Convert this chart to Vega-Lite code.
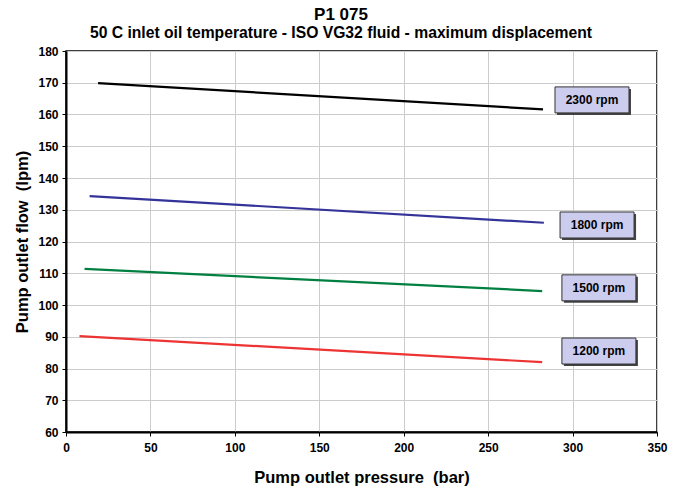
{
  "$schema": "https://vega.github.io/schema/vega-lite/v6.json",
  "width": 591,
  "height": 381,
  "autosize": {"type": "none"},
  "padding": {"left": 66, "top": 51, "right": 26, "bottom": 59},
  "background": "white",
  "title": {
    "text": "P1 075",
    "subtitle": "50 C inlet oil temperature - ISO VG32 fluid - maximum displacement",
    "font": "Liberation Sans",
    "fontSize": 17,
    "fontWeight": "bold",
    "color": "black",
    "subtitleFont": "Liberation Sans",
    "subtitleFontSize": 15.7,
    "subtitleFontWeight": "bold",
    "subtitleColor": "black",
    "subtitlePadding": 2,
    "offset": 3,
    "anchor": "middle",
    "frame": "bounds"
  },
  "config": {
    "view": {"stroke": "black", "strokeWidth": 1.5},
    "axis": {
      "labelFont": "Liberation Sans",
      "labelFontSize": 12,
      "labelFontWeight": "bold",
      "labelColor": "black",
      "labelFlush": false,
      "labelOverlap": false,
      "titleFont": "Liberation Sans",
      "titleFontSize": 16.5,
      "titleFontWeight": "bold",
      "titleColor": "black",
      "domainColor": "black",
      "domainWidth": 2,
      "tickColor": "black",
      "tickSize": 4,
      "gridColor": "#cccccc",
      "gridWidth": 1
    }
  },
  "datasets": {
    "curves": [
      {"speed": "2300 rpm", "pressure": 19, "flow": 169.9},
      {"speed": "2300 rpm", "pressure": 282.5, "flow": 161.6},
      {"speed": "1800 rpm", "pressure": 14, "flow": 134.3},
      {"speed": "1800 rpm", "pressure": 283, "flow": 125.9},
      {"speed": "1500 rpm", "pressure": 11, "flow": 111.4},
      {"speed": "1500 rpm", "pressure": 282, "flow": 104.4},
      {"speed": "1200 rpm", "pressure": 8, "flow": 90.2},
      {"speed": "1200 rpm", "pressure": 282, "flow": 82.0}
    ],
    "labels": [
      {"speed": "2300 rpm", "pressure": 311.5, "flow": 164.6},
      {"speed": "1800 rpm", "pressure": 314.5, "flow": 125.2},
      {"speed": "1500 rpm", "pressure": 315.6, "flow": 105.4},
      {"speed": "1200 rpm", "pressure": 315.6, "flow": 85.5}
    ]
  },
  "encoding": {
    "x": {
      "field": "pressure", "type": "quantitative",
      "scale": {"domain": [0, 350], "nice": false},
      "axis": {"values": [0, 50, 100, 150, 200, 250, 300, 350], "title": "Pump outlet pressure \u00a0(bar)", "titlePadding": 16, "labelPadding": 6}
    },
    "y": {
      "field": "flow", "type": "quantitative",
      "scale": {"domain": [60, 180], "nice": false, "zero": false},
      "axis": {"values": [60, 70, 80, 90, 100, 110, 120, 130, 140, 150, 160, 170, 180], "title": "Pump outlet flow \u00a0(lpm)", "titlePadding": 7, "labelPadding": 4}
    }
  },
  "layer": [
    {
      "data": {"name": "curves"},
      "mark": {"type": "line", "strokeWidth": 2.2},
      "encoding": {
        "color": {
          "field": "speed", "type": "nominal",
          "scale": {"domain": ["2300 rpm", "1800 rpm", "1500 rpm", "1200 rpm"], "range": ["#000000", "#333399", "#008040", "#ee3333"]},
          "legend": null
        },
        "detail": {"field": "speed"}
      }
    },
    {
      "data": {"name": "labels"},
      "mark": {"type": "rect", "width": 74, "height": 26, "fill": "#444444", "xOffset": 2, "yOffset": 2},
      "encoding": {}
    },
    {
      "data": {"name": "labels"},
      "mark": {"type": "rect", "width": 74, "height": 26, "fill": "#ccccee", "stroke": "#333333", "strokeWidth": 1},
      "encoding": {}
    },
    {
      "data": {"name": "labels"},
      "mark": {"type": "text", "font": "Liberation Sans", "fontSize": 12, "fontWeight": "bold", "color": "black", "align": "center", "baseline": "middle"},
      "encoding": {
        "text": {"field": "speed"}
      }
    }
  ]
}
